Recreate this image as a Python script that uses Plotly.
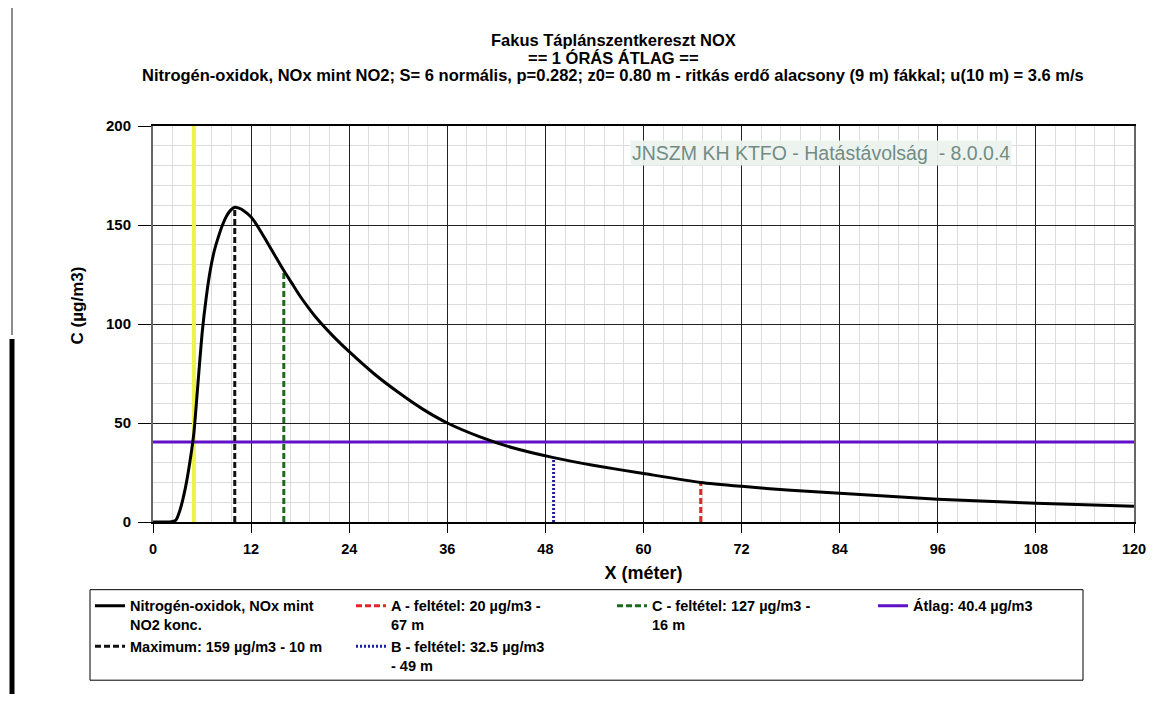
import plotly.graph_objects as go

# Concentration curve
dist_m = [0, 1, 2, 2.8, 3.3, 4, 4.5, 5, 5.5, 6, 6.5, 7, 7.5, 8, 8.5, 9, 9.5, 10,
          10.5, 11, 12, 13, 14, 15, 16, 17, 18, 19, 20, 22, 24, 27, 30, 33, 36, 40, 44,
          49, 54, 60, 67, 72, 78, 84, 90, 96, 102, 108, 114, 120]
conc = [0, 0, 0, 1, 6, 18, 30, 45, 70, 95, 113, 127, 137, 144, 150, 154.5, 157.5, 159,
        158.5, 157.5, 154, 148, 141, 134, 127, 120.5, 114, 108.3, 103, 94, 86, 75, 65.5, 57, 50, 43, 37.5,
        32.5, 28.5, 24.5, 20, 18, 16, 14.5, 13, 11.5, 10.5, 9.5, 8.7, 8]

# Condition markers: name, distance, concentration
cond_names = ["Maximum: 159 µg/m3 - 10 m", "A - feltétel: 20 µg/m3 -<br>67 m",
              "B - feltétel: 32.5 µg/m3<br>- 49 m", "C - feltétel: 127 µg/m3 -<br>16 m"]
cond_x = [10, 67, 49, 16]
cond_y = [159, 20, 32.5, 127]
cond_colors = ["#111111", "#e3242b", "#1f1f9e", "#1b6b1b"]
cond_dash = ["6px,3px", "6px,3px", "2px,2px", "6px,3px"]
cond_rank = [5, 2, 6, 3]

avg_value = 40.4
limit_x = 5
x_range = [0, 120]
y_range = [0, 200]
x_ticks = [0, 12, 24, 36, 48, 60, 72, 84, 96, 108, 120]

FONT = "Liberation Sans, Arial, sans-serif"
PLOT_W = 981  # plot area width in px, used to place paper-referenced items

fig = go.Figure()

# yellow source-distance line
fig.add_trace(go.Scatter(
    x=[limit_x, limit_x], y=y_range, mode="lines",
    line=dict(color="#eef24a", width=4), showlegend=False, hoverinfo="skip"
))

# average line
fig.add_trace(go.Scatter(
    x=x_range, y=[avg_value, avg_value], mode="lines",
    name=f"<b>Átlag: {avg_value} µg/m3</b>", legendrank=4,
    line=dict(color="#6010c8", width=3)
))

for name, cx, cy, col, dash, rank in zip(cond_names, cond_x, cond_y, cond_colors, cond_dash, cond_rank):
    fig.add_trace(go.Scatter(
        x=[cx, cx], y=[0, cy], mode="lines", name=f"<b>{name}</b>", legendrank=rank,
        line=dict(color=col, width=3, dash=dash)
    ))

# main curve
fig.add_trace(go.Scatter(
    x=dist_m, y=conc, mode="lines", name="<b>Nitrogén-oxidok, NOx mint<br>NO2 konc.</b>",
    legendrank=1, line=dict(color="#000000", width=3, shape="spline", smoothing=0.6)
))

title_lines = [
    "Fakus Táplánszentkereszt NOX",
    "== 1 ÓRÁS ÁTLAG ==",
    "Nitrogén-oxidok, NOx mint NO2; S= 6 normális, p=0.282; z0= 0.80 m - ritkás erdő alacsony (9 m) fákkal; u(10 m) = 3.6 m/s",
]
for i, t in enumerate(title_lines):
    fig.add_annotation(
        text=f"<b>{t}</b>", xref="paper", yref="paper",
        x=460 / PLOT_W, y=1 + (86 - i * 17.5) / 398, xanchor="center", yanchor="middle",
        showarrow=False, font=dict(size=16.5, color="#000")
    )

# y axis title (placed by hand, as in the original)
fig.add_annotation(
    text="<b>C (µg/m3)</b>", xref="paper", yref="paper", x=-76 / PLOT_W, y=0.547,
    xanchor="center", yanchor="middle",
    textangle=-90, showarrow=False, font=dict(size=17, color="#000")
)

# watermark
fig.add_annotation(
    text="JNSZM KH KTFO - Hatástávolság  - 8.0.0.4", xref="paper", yref="paper",
    x=668 / PLOT_W, y=0.932, xanchor="center", yanchor="middle", showarrow=False,
    font=dict(size=19.5, color="#728c84", family=FONT), bgcolor="rgba(236,243,239,0.95)"
)

# legend frame (drawn separately so it can be narrower than the legend's item grid)
fig.add_shape(type="rect", xref="paper", yref="paper", x0=-63 / PLOT_W, x1=930 / PLOT_W,
              y0=-0.1709, y1=-0.3995, line=dict(color="#000", width=1))

# scan artefacts on the left edge
fig.add_shape(type="line", xref="paper", yref="paper", x0=-141 / PLOT_W, x1=-141 / PLOT_W,
              y0=1 + 120 / 398, y1=1 - 210 / 398, line=dict(color="#8a8f8c", width=2))
fig.add_shape(type="line", xref="paper", yref="paper", x0=-141 / PLOT_W, x1=-141 / PLOT_W,
              y0=1 - 214 / 398, y1=-0.45, line=dict(color="#000", width=5))

# page body has an 8px margin, so the figure is 16px smaller than the window
fig.update_layout(
    width=1139, height=686,
    paper_bgcolor="white", plot_bgcolor="white",
    font=dict(family=FONT, color="#000"),
    margin=dict(l=145, r=13, t=118, b=170),
    showlegend=True,
    legend=dict(
        orientation="h", x=-63 / PLOT_W, y=-0.171, xanchor="left", yanchor="top",
        entrywidth=216, borderwidth=0, bgcolor="rgba(0,0,0,0)",
        font=dict(size=14.5, family=FONT), traceorder="normal", valign="top"
    ),
)
fig.update_xaxes(
    range=x_range, tickvals=x_ticks, showgrid=True, gridcolor="#222", gridwidth=1,
    minor=dict(dtick=2.4, showgrid=True, gridcolor="#dcdcdc", gridwidth=1),
    showline=True, linecolor="#000", linewidth=2, mirror=True,
    ticks="outside", ticklen=9, tickcolor="#000", zeroline=False, ticklabelstandoff=4,
    ticklabeloverflow="allow", automargin=False,
    tickfont=dict(size=14.5, family=FONT, weight="bold"),
    title=dict(text="<b>X (méter)</b>", font=dict(size=18), standoff=10)
)
fig.update_yaxes(
    range=y_range, dtick=50, showgrid=True, gridcolor="#222", gridwidth=1,
    minor=dict(dtick=10, showgrid=True, gridcolor="#dcdcdc", gridwidth=1),
    showline=True, linecolor="#666", linewidth=2, mirror=True,
    ticks="outside", ticklen=13, tickcolor="#000", zeroline=False, ticklabelstandoff=4,
    automargin=False,
    tickfont=dict(size=15, family=FONT, weight="bold")
)

fig.write_html("out.html")
